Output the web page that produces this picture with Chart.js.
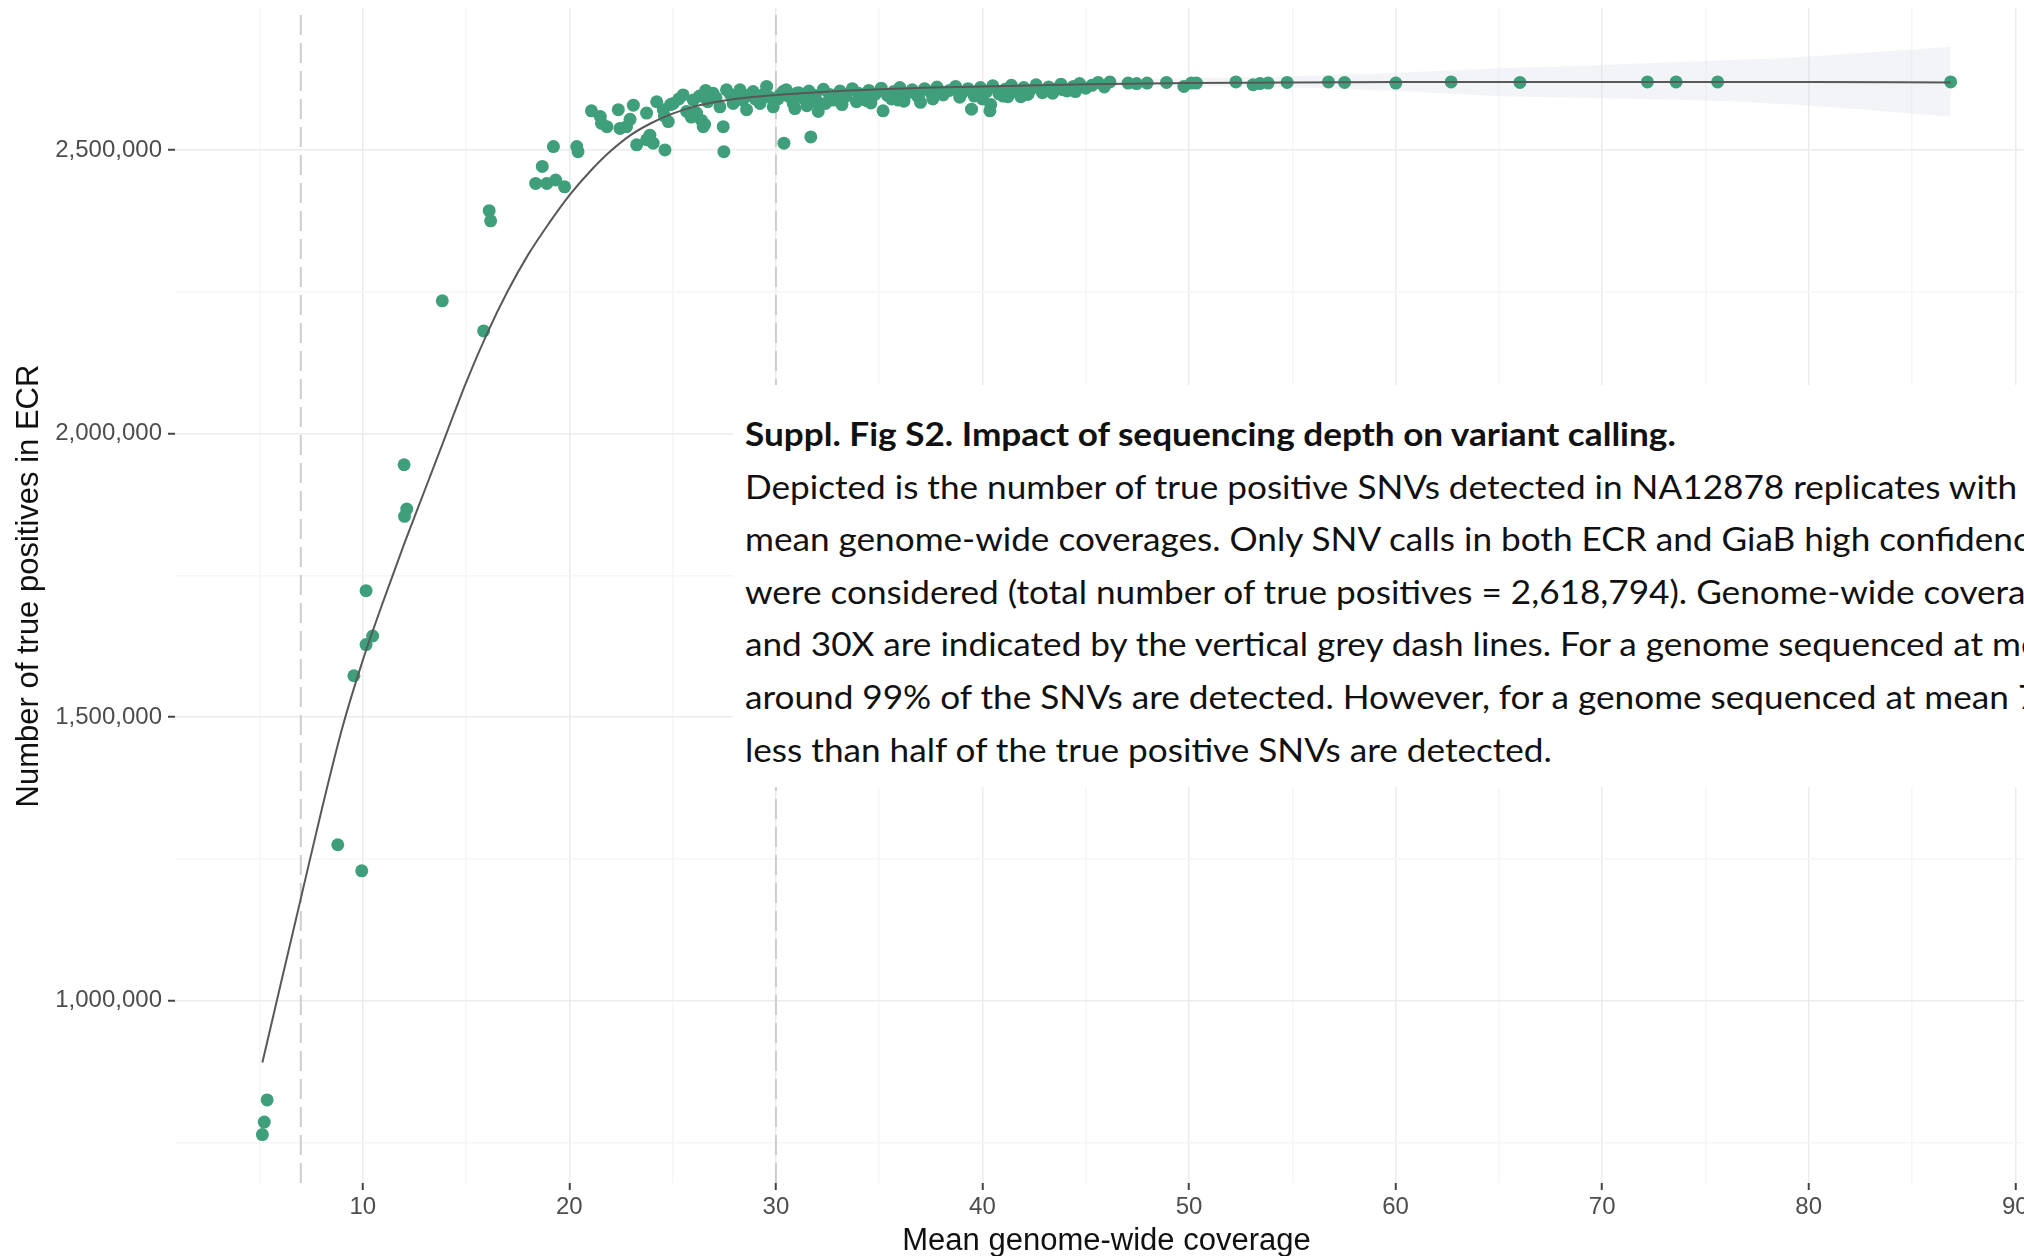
<!DOCTYPE html>
<html>
<head>
<meta charset="utf-8">
<script src="https://cdn.jsdelivr.net/npm/chart.js@4.4.1/dist/chart.umd.min.js"></script>
<style>
  html, body { margin: 0; padding: 0; background: #fff; overflow: hidden; }
  #wrap { position: relative; width: 2024px; height: 1256px; overflow: hidden; background: #fff; }
  #chart { position: absolute; left: 0; top: 0; }
  #caption {
    position: absolute; left: 733px; top: 385px; width: 1400px; height: 402px;
    background: #fff; color: #111;
    font-family: Lato, "Open Sans", sans-serif; font-size: 33px; line-height: 52.6px;
    padding: 22px 0 0 12px; box-sizing: border-box;
  }
  #caption div { white-space: nowrap; transform: scaleX(1.065); transform-origin: 0 50%; }
  #caption .ttl { font-weight: bold; }
</style>
</head>
<body>
<div id="wrap">
  <canvas id="chart" width="2060" height="1256"></canvas>
  <div id="caption">
    <div class="ttl">Suppl. Fig S2. Impact of sequencing depth on variant calling.</div>
    <div>Depicted is the number of true positive SNVs detected in NA12878 replicates with different</div>
    <div>mean genome-wide coverages. Only SNV calls in both ECR and GiaB high confidence regions</div>
    <div>were considered (total number of true positives = 2,618,794). Genome-wide coverage of 7X</div>
    <div>and 30X are indicated by the vertical grey dash lines. For a genome sequenced at mean 30X,</div>
    <div>around 99% of the SNVs are detected. However, for a genome sequenced at mean 7X,</div>
    <div>less than half of the true positive SNVs are detected.</div>
  </div>
</div>
<script>
// Replicates: mean genome-wide coverage and true positive SNVs in ECR
const coverage = [
  5.14, 5.23, 5.37, 8.79, 9.95, 9.57, 10.16, 10.48, 10.16, 12.0, 12.13, 12.02,
  13.85, 15.85, 16.12, 16.19,
  18.37, 18.69, 18.91, 19.34, 19.77, 19.23, 20.36, 20.42,
  21.07, 21.5, 21.56, 21.82, 22.37, 22.45, 22.77, 22.94, 23.1, 23.26, 23.74, 23.9,
  24.06, 24.63, 23.74, 24.23, 24.55, 24.79, 25.03, 25.51, 25.68, 26.0, 26.16, 26.48,
  26.55, 26.96, 27.29, 27.45, 27.48, 27.61, 27.93, 28.26, 28.58, 28.9, 29.23, 29.55,
  29.87, 30.35, 30.84, 30.39, 31.69, 32.05, 30.92,
  26.3, 26.7, 27.1, 27.8, 28.1, 28.4, 28.7, 29.0, 29.4, 29.7, 30.1, 30.6, 31.0, 26.6, 25.3, 24.9,
  30.2, 30.5, 30.8, 31.1, 31.4, 31.6, 31.9, 32.3, 32.6, 32.8, 33.1, 33.4, 33.7, 34.0,
  34.2, 34.5, 34.8, 35.1, 35.4, 35.7, 36.0, 36.3, 36.6, 36.9, 37.2, 37.5, 37.8, 38.1,
  38.4, 38.7, 39.0, 39.3, 39.6, 39.9, 40.2, 40.5, 40.8, 41.1, 41.4, 41.7, 42.0, 42.3,
  42.6, 42.9, 43.2, 43.5, 43.8, 44.1, 44.4, 44.7, 45.0, 45.3, 45.6, 45.9,
  30.0, 31.3, 32.0, 33.0, 34.4, 35.6, 36.8, 37.6, 38.9, 40.0, 41.0, 42.2, 43.4, 44.5,
  35.19, 35.92, 39.47, 40.36, 40.4, 41.23, 41.86, 43.9,
  31.5, 32.4, 33.2, 33.9, 34.6, 36.2, 37.0, 25.9, 26.4, 24.6,
  46.17, 47.05, 47.46, 47.97, 48.91, 49.75, 50.12, 50.36, 52.27, 53.1, 53.43, 53.83,
  54.75, 56.75, 57.53, 60.01, 62.69, 66.02, 72.19, 73.58, 75.59, 86.87
];
const truePositives = [
  764000, 786000, 825000, 1275000, 1229000, 1573000, 1628000, 1643000, 1723000, 1945000, 1867000, 1854000,
  2234000, 2181000, 2393000, 2375000,
  2441000, 2471000, 2441000, 2447000, 2435000, 2506000, 2506000, 2497000,
  2569000, 2559000, 2547000, 2541000, 2571000, 2538000, 2541000, 2554000, 2579000, 2509000, 2518000, 2526000,
  2512000, 2500000, 2565000, 2585000, 2571000, 2550000, 2582000, 2597000, 2568000, 2588000, 2565000, 2541000,
  2545000, 2600000, 2576000, 2541000, 2497000, 2606000, 2582000, 2606000, 2571000, 2603000, 2582000, 2612000,
  2576000, 2603000, 2582000, 2512000, 2523000, 2568000, 2573000,
  2595000, 2585000, 2592000, 2598000, 2590000, 2588000, 2597000, 2590000, 2598000, 2593000, 2590000, 2595000, 2600000, 2605000, 2590000, 2580000,
  2597000, 2606000, 2592000, 2601000, 2589000, 2604000, 2596000, 2607000, 2598000, 2588000, 2604000, 2595000, 2608000, 2600000,
  2590000, 2605000, 2598000, 2609000, 2596000, 2603000, 2610000, 2599000, 2606000, 2593000, 2608000, 2601000, 2611000, 2597000,
  2605000, 2612000, 2600000, 2608000, 2595000, 2610000, 2603000, 2613000, 2599000, 2607000, 2614000, 2602000, 2610000, 2605000,
  2615000, 2601000, 2611000, 2607000, 2616000, 2604000, 2612000, 2617000, 2609000, 2614000, 2619000, 2611000,
  2589000, 2594000, 2585000, 2592000, 2587000, 2590000, 2598000, 2590000, 2593000, 2590000, 2595000, 2598000, 2600000, 2603000,
  2569000, 2588000, 2572000, 2569000, 2580000, 2594000, 2594000, 2606000,
  2578000, 2582000, 2580000, 2585000, 2583000, 2586000, 2584000, 2558000, 2552000, 2560000,
  2620000, 2618000, 2617000, 2618000, 2619000, 2612000, 2618000, 2618000, 2620000, 2615000, 2617000, 2618000,
  2619000, 2620000, 2619000, 2618000, 2620000, 2619000, 2620000, 2620000, 2620000, 2620000
];

// Smoothed fit through the replicates
const fitCoverage = [5.14, 6, 7, 8, 9, 10, 11, 12, 13, 14, 15, 16, 17, 18, 19, 20, 21, 22, 23, 24, 25, 26, 27, 28, 30, 35, 40, 45, 50, 60, 70, 80, 86.87];
const fitValue = [891000, 1025000, 1180000, 1335000, 1480000, 1600000, 1705000, 1805000, 1900000, 1995000, 2090000, 2175000, 2250000, 2315000, 2370000, 2420000, 2462000, 2498000, 2527000, 2548000, 2564000, 2576000, 2584000, 2590000, 2597000, 2607000, 2612000, 2616000, 2618000, 2620000, 2620000, 2620000, 2619000];

// Confidence band of the fit (visible where replicates are sparse)
const ciCoverage = [45, 55, 60, 65, 70, 75, 80, 86.87];
const ciUpper = [2623000, 2630000, 2636000, 2644000, 2650000, 2657000, 2665000, 2682000];
const ciLower = [2613000, 2610000, 2604000, 2595000, 2591000, 2587000, 2578000, 2559000];

// Reference coverages (7X and 30X)
const refCoverage = [7, 30];

// Axis breaks
const xMajorTicks = [10, 20, 30, 40, 50, 60, 70, 80, 90];
const xMinorTicks = [5, 15, 25, 35, 45, 55, 65, 75, 85];
const yMajorTicks = [1000000, 1500000, 2000000, 2500000];
const yMinorTicks = [750000, 1250000, 1750000, 2250000];

const X_TITLE = 'Mean genome-wide coverage';
const Y_TITLE = 'Number of true positives in ECR';

const X_MIN = 0.91, X_MAX = 91.1;
const Y_MIN = 678600, Y_MAX = 2750300;

const GREEN = '#3f9f7b';
const MAJOR_GRID = '#ececee';
const MINOR_GRID = '#f6f6f7';
const TICK_COL = '#444444';
const AXIS_FONT = '"Liberation Sans", Arial, sans-serif';

const xy = (xs, ys) => xs.map((x, i) => ({ x: x, y: ys[i] }));
const fmt = v => v.toLocaleString('en-US');

const refDatasets = refCoverage.map(c => ({
  label: c + 'X',
  data: [{ x: c, y: Y_MIN }, { x: c, y: Y_MAX }],
  showLine: true,
  borderColor: '#cdcdcd',
  borderWidth: 2,
  borderDash: [20, 8],
  pointRadius: 0,
  fill: false,
  order: 5
}));

// Vertical axis title, centred a little above the middle of the panel
const yTitlePlugin = {
  id: 'yTitle',
  afterDraw(chart) {
    const ctx = chart.ctx;
    ctx.save();
    ctx.translate(29.7, 586);
    ctx.rotate(-Math.PI / 2);
    ctx.font = '31px ' + AXIS_FONT;
    ctx.fillStyle = '#111';
    ctx.textAlign = 'center';
    ctx.textBaseline = 'middle';
    ctx.fillText(Y_TITLE, 0, 0);
    ctx.restore();
  }
};

new Chart(document.getElementById('chart'), {
  type: 'scatter',
  plugins: [yTitlePlugin],
  data: {
    datasets: [
      {
        label: 'fit',
        data: xy(fitCoverage, fitValue),
        showLine: true,
        borderColor: '#585858',
        borderWidth: 2,
        pointRadius: 0,
        cubicInterpolationMode: 'monotone',
        fill: false,
        order: 1
      },
      {
        label: 'replicates',
        data: xy(coverage, truePositives),
        backgroundColor: GREEN,
        borderWidth: 0,
        pointRadius: 6.5,
        pointHoverRadius: 6.5,
        order: 2
      },
      {
        label: 'ci upper',
        data: xy(ciCoverage, ciUpper),
        showLine: true,
        borderWidth: 0,
        borderColor: 'rgba(0,0,0,0)',
        pointRadius: 0,
        tension: 0.3,
        fill: false,
        order: 3
      },
      {
        label: 'ci lower',
        data: xy(ciCoverage, ciLower),
        showLine: true,
        borderWidth: 0,
        borderColor: 'rgba(0,0,0,0)',
        backgroundColor: 'rgba(214,218,228,0.3)',
        pointRadius: 0,
        tension: 0.3,
        fill: '-1',
        order: 3
      },
      ...refDatasets
    ]
  },
  options: {
    responsive: false,
    devicePixelRatio: 1,
    animation: false,
    events: [],
    layout: { padding: { left: 0, right: 22, top: 8, bottom: 0 } },
    plugins: {
      legend: { display: false },
      tooltip: { enabled: false }
    },
    scales: {
      x: {
        type: 'linear',
        min: X_MIN,
        max: X_MAX,
        afterBuildTicks: s => { s.ticks = xMinorTicks.concat(xMajorTicks).sort((a, b) => a - b).map(v => ({ value: v })); },
        afterFit: s => { s.height = 73; s.paddingLeft = 0; s.paddingRight = 0; },
        border: { display: false },
        grid: {
          color: c => (c.tick && xMajorTicks.includes(c.tick.value)) ? MAJOR_GRID : MINOR_GRID,
          tickColor: c => (c.tick && xMajorTicks.includes(c.tick.value)) ? TICK_COL : 'rgba(0,0,0,0)',
          lineWidth: 1.5,
          tickWidth: 2,
          tickLength: 7,
          drawTicks: true
        },
        ticks: {
          autoSkip: false,
          maxRotation: 0,
          padding: 3,
          color: '#4d4d4d',
          font: { family: AXIS_FONT, size: 24 },
          callback: v => xMajorTicks.includes(v) ? String(v) : ''
        },
        title: {
          display: true,
          text: X_TITLE,
          color: '#111',
          padding: { top: 0, bottom: 0 },
          font: { family: AXIS_FONT, size: 31, lineHeight: 0.95 }
        }
      },
      y: {
        type: 'linear',
        min: Y_MIN,
        max: Y_MAX,
        afterBuildTicks: s => { s.ticks = yMinorTicks.concat(yMajorTicks).sort((a, b) => a - b).map(v => ({ value: v })); },
        afterFit: s => { s.width = 175; s.paddingTop = 0; s.paddingBottom = 0; },
        border: { display: false },
        grid: {
          color: c => (c.tick && yMajorTicks.includes(c.tick.value)) ? MAJOR_GRID : MINOR_GRID,
          tickColor: c => (c.tick && yMajorTicks.includes(c.tick.value)) ? TICK_COL : 'rgba(0,0,0,0)',
          lineWidth: 1.5,
          tickWidth: 2,
          tickLength: 7,
          drawTicks: true
        },
        ticks: {
          autoSkip: false,
          padding: 6,
          color: '#4d4d4d',
          font: { family: AXIS_FONT, size: 24 },
          callback: v => yMajorTicks.includes(v) ? fmt(v) : ''
        },
        title: { display: false }
      }
    }
  }
});
</script>
</body>
</html>
